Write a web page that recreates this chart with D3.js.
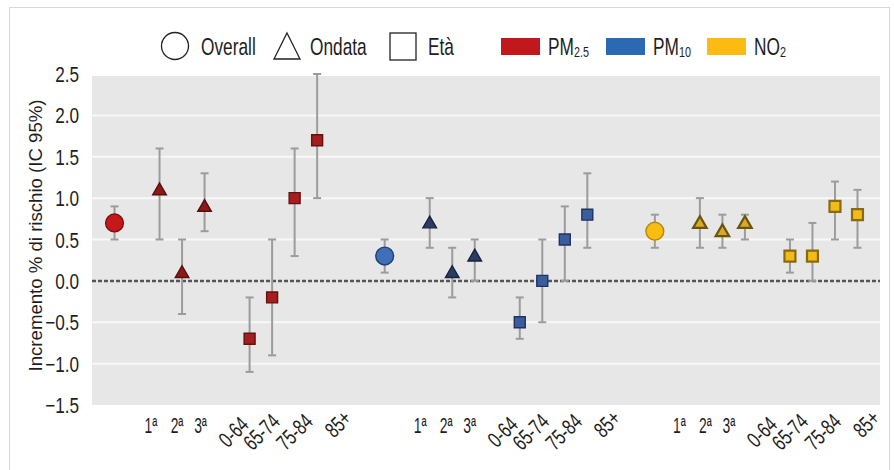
<!DOCTYPE html>
<html><head><meta charset="utf-8">
<script src="https://cdn.jsdelivr.net/npm/d3@7/dist/d3.min.js"></script>
<style>
html,body{margin:0;padding:0;background:#fff;}
text{font-family:"Liberation Sans",Arial,sans-serif;fill:#1e1e1e;}
</style></head>
<body><svg id="c" width="894" height="470"></svg>
<script>
// ---- data ----
const pollutants = ["PM2.5", "PM10", "NO2"];
const subgroups = ["Overall", "1ª", "2ª", "3ª", "0-64", "65-74", "75-84", "85+"];
const subgroupType = ["Overall", "Ondata", "Ondata", "Ondata", "Età", "Età", "Età", "Età"];
const yTicks = [2.5, 2.0, 1.5, 1.0, 0.5, 0.0, -0.5, -1.0, -1.5];

const pm25 = [0.7, 1.1, 0.1, 0.9, -0.7, -0.2, 1.0, 1.7];
const pm25Low = [0.5, 0.5, -0.4, 0.6, -1.1, -0.9, 0.3, 1.0];
const pm25High = [0.9, 1.6, 0.5, 1.3, -0.2, 0.5, 1.6, 2.5];

const pm10 = [0.3, 0.7, 0.1, 0.3, -0.5, 0.0, 0.5, 0.8];
const pm10Low = [0.1, 0.4, -0.2, 0.0, -0.7, -0.5, 0.0, 0.4];
const pm10High = [0.5, 1.0, 0.4, 0.5, -0.2, 0.5, 0.9, 1.3];

const no2 = [0.6, 0.7, 0.6, 0.7, 0.3, 0.3, 0.9, 0.8];
const no2Low = [0.4, 0.4, 0.4, 0.5, 0.1, 0.0, 0.5, 0.4];
const no2High = [0.8, 1.0, 0.8, 0.8, 0.5, 0.7, 1.2, 1.1];

// ---- layout / style ----
const slotOf = [0, 2, 3, 4, 6, 7, 8, 9];      // position of each subgroup inside a block
const slotsPerBlock = 12;
const labelShift = [0, -8.5, -5, -4, -16, -10.5, 0, 21];
const labelGroupShift = [0, -1, -12];
const rotatedLabel = [false, false, false, false, true, true, true, true];
const styles = {
  "PM2.5": {legend: "#c0181c", circle: ["#c8161d", "#7a1010"], tri: ["#8a1a1a", "#560e0e"], sq: ["#a51d1d", "#651111"]},
  "PM10":  {legend: "#2b69b3", circle: ["#3f6fb8", "#223d6c"], tri: ["#2c3c62", "#18223c"], sq: ["#3b5d9d", "#1f3360"]},
  "NO2":   {legend: "#fbbb12", circle: ["#f7bd10", "#b8860b"], tri: ["#d9aa22", "#6b5410"], sq: ["#f2bb18", "#8a6a10"]}
};

const series = {
  "PM2.5": [pm25, pm25Low, pm25High],
  "PM10": [pm10, pm10Low, pm10High],
  "NO2": [no2, no2Low, no2High]
};

const rows = [];
pollutants.forEach((p, gi) => {
  const [v, lo, hi] = series[p];
  subgroups.forEach((s, i) => {
    rows.push({p, gi, s, i, slot: gi * slotsPerBlock + slotOf[i], v: v[i], lo: lo[i], hi: hi[i], type: subgroupType[i]});
  });
});

const svg = d3.select("#c");

// helper: condensed text (horizontal squeeze)
function ctext(parent, x, y, str, size, sx, anchor, rot) {
  const t = parent.append("text")
    .attr("transform", `translate(${x},${y})` + (rot ? ` rotate(${rot})` : "") + ` scale(${sx},1)`)
    .attr("font-size", size).attr("text-anchor", anchor || "start");
  if (str !== null) t.text(str);
  return t;
}

// outer frame
svg.append("rect").attr("x", 9.5).attr("y", 7.5).attr("width", 880).attr("height", 480)
  .attr("fill", "none").attr("stroke", "#d8d8d8").attr("stroke-width", 1);

const plot = {left: 92, right: 880, top: 74, bottom: 405};
const x = d3.scaleLinear().domain([-1, 3 * slotsPerBlock - 2]).range([plot.left, plot.right]);
const y = d3.scaleLinear().domain([-1.5, 2.5]).range([plot.bottom, plot.top]);

// background
svg.append("rect").attr("x", plot.left).attr("y", y(2.5) + 2).attr("width", plot.right - plot.left)
  .attr("height", y(-1.5) - y(2.5) - 2).attr("fill", "#e7e7e7");

// gridlines
svg.append("g").selectAll("line").data(yTicks.filter(t => t !== 0 && t !== 2.5 && t !== -1.5)).join("line")
  .attr("x1", plot.left).attr("x2", plot.right).attr("y1", d => y(d)).attr("y2", d => y(d))
  .attr("stroke", "#f8f8f8").attr("stroke-width", 2);

// y tick labels
const fmt = d3.format(".1f");
const gy = svg.append("g");
yTicks.forEach(t => {
  ctext(gy, 79, y(t) + 8, fmt(t), 22, 0.78, "end");
});

// y title
ctext(svg, 42, (y(2.5) + y(-1.5)) / 2 - 4, "Incremento % di rischio (IC 95%)", 19, 0.98, "middle", -90);

// zero line
svg.append("line").attr("x1", plot.left).attr("x2", plot.right).attr("y1", y(0)).attr("y2", y(0))
  .attr("stroke", "#555").attr("stroke-width", 2.5).attr("stroke-dasharray", "4,2");

// error bars
const eb = svg.append("g").selectAll("g").data(rows).join("g");
eb.append("line").attr("x1", d => x(d.slot)).attr("x2", d => x(d.slot))
  .attr("y1", d => y(d.lo)).attr("y2", d => y(d.hi)).attr("stroke", "#9c9c9c").attr("stroke-width", 2);
[d => d.lo, d => d.hi].forEach(f => {
  eb.append("line").attr("x1", d => x(d.slot) - 4).attr("x2", d => x(d.slot) + 4)
    .attr("y1", d => y(f(d))).attr("y2", d => y(f(d))).attr("stroke", "#9c9c9c").attr("stroke-width", 2);
});

// markers
const circ = d3.symbol().type(d3.symbolCircle).size(250);
const tri = d3.symbol().type(d3.symbolTriangle).size(80);
const sq = d3.symbol().type(d3.symbolSquare).size(120);
const key = d => d.type === "Overall" ? "circle" : d.type === "Ondata" ? "tri" : "sq";
svg.append("g").selectAll("path").data(rows).join("path")
  .attr("transform", d => `translate(${x(d.slot)},${y(d.v) + (d.type === "Ondata" ? 1 : 0)})`)
  .attr("d", d => d.type === "Overall" ? circ() : d.type === "Ondata" ? tri() : sq())
  .attr("fill", d => styles[d.p][key(d)][0])
  .attr("stroke", d => styles[d.p][key(d)][1])
  .attr("stroke-width", d => (d.p === "NO2" && d.type !== "Overall") ? 2.2 : 1.4);

// x labels
const gx = svg.append("g");
rows.filter(d => d.i > 0).forEach(d => {
  const lx = x(d.slot) + labelShift[d.i] + labelGroupShift[d.gi];
  if (rotatedLabel[d.i]) {
    const ly = d.s === "85+" ? 424 : 432;
    ctext(gx, lx, ly, d.s, 22, 0.72, "middle", -45).attr("dominant-baseline", "central");
  } else {
    ctext(gx, lx, 433, d.s, 22, 0.63, "middle");
  }
});

// legend
const lg = svg.append("g");
lg.append("circle").attr("cx", 175).attr("cy", 46).attr("r", 13.5).attr("fill", "none").attr("stroke", "#222").attr("stroke-width", 1.3);
ctext(lg, 201, 55, "Overall", 24, 0.72);
lg.append("path").attr("d", "M287,33 L300,59 L274,59 Z").attr("fill", "none").attr("stroke", "#222").attr("stroke-width", 1.3);
ctext(lg, 310, 55, "Ondata", 24, 0.72);
lg.append("rect").attr("x", 390).attr("y", 33).attr("width", 26).attr("height", 27).attr("fill", "none").attr("stroke", "#222").attr("stroke-width", 1.3);
ctext(lg, 428, 55, "Età", 24, 0.72);

const legX = [501, 606, 707];
const legSub = [["PM", "2.5"], ["PM", "10"], ["NO", "2"]];
pollutants.forEach((p, i) => {
  lg.append("rect").attr("x", legX[i]).attr("y", 38).attr("width", 39).attr("height", 17).attr("fill", styles[p].legend);
  const t = ctext(lg, legX[i] + 47, 55, null, 24, 0.72);
  t.append("tspan").text(legSub[i][0]);
  t.append("tspan").attr("font-size", 15).attr("dy", 2).text(legSub[i][1]);
});
</script></body></html>
